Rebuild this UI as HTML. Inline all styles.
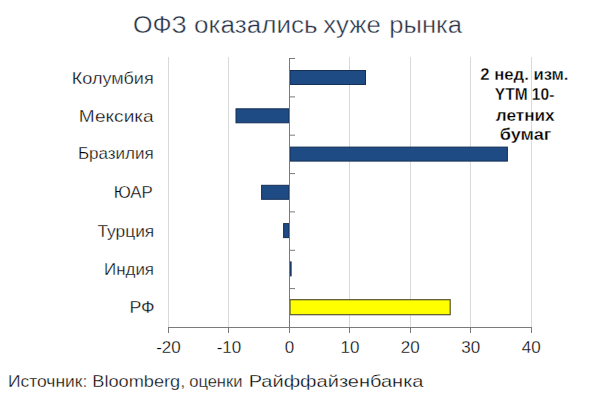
<!DOCTYPE html>
<html><head><meta charset="utf-8">
<style>
html,body{margin:0;padding:0;background:#fff;width:600px;height:415px;overflow:hidden}
svg{display:block;font-family:"Liberation Sans",sans-serif}
</style></head>
<body>
<svg width="600" height="415" viewBox="0 0 600 415">
<rect width="600" height="415" fill="#fff"/>
<g font-size="23" fill="#263244" stroke="#fff" stroke-width="0.4">
<text x="133.0" y="32.5" textLength="53.8" lengthAdjust="spacingAndGlyphs">ОФЗ</text>
<text x="194.0" y="32.5" textLength="123.7" lengthAdjust="spacingAndGlyphs">оказались</text>
<text x="323.2" y="32.5" textLength="57.5" lengthAdjust="spacingAndGlyphs">хуже</text>
<text x="389.3" y="32.5" textLength="72.7" lengthAdjust="spacingAndGlyphs">рынка</text>
</g>
<g stroke="#d9d9d9" stroke-width="1">
<path d="M168.5 57V327M228.5 57V327M349.5 57V327M410.5 57V327M470.5 57V327M531.5 57V327"/>
</g>
<g fill="#1f4b84" stroke="#152f55" stroke-width="1">
<rect x="290.0" y="70.5" width="75.5" height="14"/>
<rect x="236.0" y="108.8" width="53.0" height="14"/>
<rect x="290.0" y="147.1" width="217.4" height="14"/>
<rect x="261.6" y="185.3" width="27.4" height="14"/>
<rect x="283.6" y="223.6" width="5.4" height="14"/>
<rect x="290.0" y="261.9" width="1.1" height="14"/>
</g>
<rect x="290" y="299.7" width="160.2" height="15" fill="#ffff00" stroke="#555533" stroke-width="1.2"/>
<g stroke="#7a7a7a" stroke-width="1" fill="none">
<path d="M289.5 58V327.5M168 327.5H532"/>
<path d="M289.5 58.5h5.5M289.5 96.9h5.5M289.5 135.2h5.5M289.5 173.6h5.5M289.5 211.9h5.5M289.5 250.3h5.5M289.5 288.6h5.5"/>
<path d="M168.5 327v6M228.5 327v6M289.5 327v6M349.5 327v6M410.5 327v6M470.5 327v6M531.5 327v6"/>
</g>
<g font-size="16" fill="#000" stroke="#fff" stroke-width="0.3">
<text x="71.8" y="84" textLength="81.9" lengthAdjust="spacingAndGlyphs">Колумбия</text>
<text x="78.8" y="121.5" textLength="74.9" lengthAdjust="spacingAndGlyphs">Мексика</text>
<text x="77.9" y="159.3" textLength="75.8" lengthAdjust="spacingAndGlyphs">Бразилия</text>
<text x="113.7" y="198.3" textLength="39.0" lengthAdjust="spacingAndGlyphs">ЮАР</text>
<text x="97.5" y="237" textLength="56.7" lengthAdjust="spacingAndGlyphs">Турция</text>
<text x="104.0" y="275" textLength="50.0" lengthAdjust="spacingAndGlyphs">Индия</text>
<text x="129.4" y="312.5" textLength="25.3" lengthAdjust="spacingAndGlyphs">РФ</text>
</g>
<g font-size="17" fill="#000" stroke="#fff" stroke-width="0.3" text-anchor="middle">
<text x="168.5" y="353.4">-20</text>
<text x="229" y="353.4">-10</text>
<text x="289.5" y="353.4">0</text>
<text x="349.9" y="353.4">10</text>
<text x="410.3" y="353.4">20</text>
<text x="470.8" y="353.4">30</text>
<text x="531.2" y="353.4">40</text>
</g>
<g font-size="16" font-weight="bold" fill="#000" stroke="#fff" stroke-width="0.3">
<text x="480.3" y="80.3" textLength="88.2" lengthAdjust="spacingAndGlyphs">2 нед. изм.</text>
<text x="494.8" y="99.8" textLength="59.5" lengthAdjust="spacingAndGlyphs">YTM 10-</text>
<text x="495.7" y="121" textLength="59.0" lengthAdjust="spacingAndGlyphs">летних</text>
<text x="499.7" y="139.7" textLength="51.6" lengthAdjust="spacingAndGlyphs">бумаг</text>
</g>
<g font-size="16" fill="#000" stroke="#fff" stroke-width="0.3">
<text x="8.0" y="387" textLength="79.3" lengthAdjust="spacingAndGlyphs">Источник:</text>
<text x="92.3" y="387" textLength="93.0" lengthAdjust="spacingAndGlyphs">Bloomberg,</text>
<text x="189.2" y="387" textLength="53.3" lengthAdjust="spacingAndGlyphs">оценки</text>
<text x="248.7" y="387" textLength="174.8" lengthAdjust="spacingAndGlyphs">Райффайзенбанка</text>
</g>
</svg>
</body></html>
